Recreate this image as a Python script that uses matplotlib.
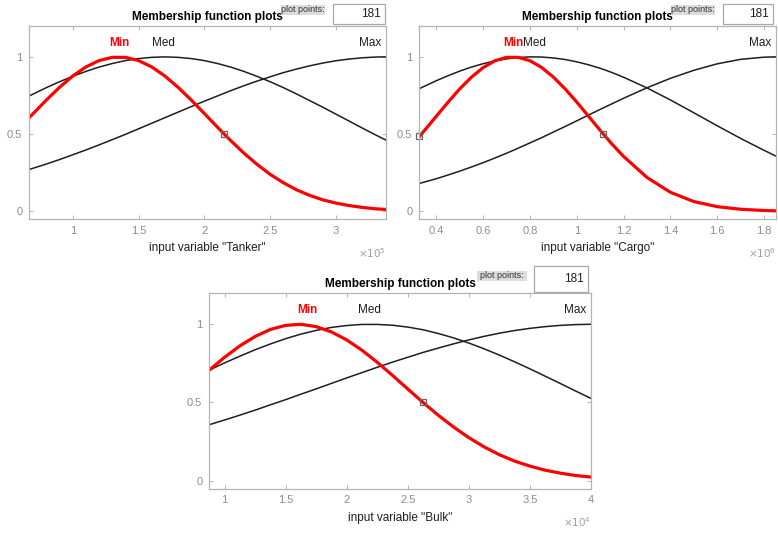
import matplotlib.pyplot as plt
from matplotlib.patches import Rectangle

W, H = 778, 536
plt.rcParams['font.family'] = ['Liberation Sans Narrow', 'Liberation Sans', 'DejaVu Sans']

# --- Tanker (x in units of 1e5) ---
tanker_x = [0.67, 0.8, 0.9, 1.0, 1.1, 1.2, 1.3, 1.4, 1.5, 1.6, 1.7, 1.8, 1.9, 2.0,
            2.1, 2.2, 2.3, 2.4, 2.5, 2.6, 2.7, 2.8, 2.9, 3.0, 3.1, 3.2, 3.3, 3.38]
tanker_min = [0.607, 0.721, 0.803, 0.876, 0.935, 0.976, 0.997, 0.997, 0.976, 0.935,
              0.876, 0.803, 0.721, 0.633, 0.544, 0.458, 0.377, 0.304, 0.239, 0.185,
              0.139, 0.103, 0.074, 0.053, 0.037, 0.025, 0.016, 0.012]
tanker_med = [0.747, 0.801, 0.839, 0.874, 0.906, 0.934, 0.957, 0.976, 0.989, 0.997,
              1.0, 0.997, 0.989, 0.976, 0.957, 0.934, 0.906, 0.874, 0.839, 0.801,
              0.760, 0.717, 0.674, 0.629, 0.584, 0.539, 0.495, 0.461]
tanker_max = [0.271, 0.306, 0.335, 0.366, 0.397, 0.430, 0.464, 0.498, 0.534, 0.570,
              0.606, 0.642, 0.678, 0.713, 0.747, 0.781, 0.813, 0.843, 0.871, 0.898,
              0.921, 0.942, 0.960, 0.975, 0.986, 0.994, 0.999, 1.0]
tanker_ticks = [1, 1.5, 2, 2.5, 3]
tanker_ticklabels = ['1', '1.5', '2', '2.5', '3']
tanker_marks_x = [2.152]
tanker_marks_y = [0.5]

# --- Cargo (x in units of 1e6) ---
cargo_x = [0.327, 0.4, 0.45, 0.5, 0.55, 0.6, 0.65, 0.7, 0.75, 0.8, 0.85, 0.9, 0.95,
           1.0, 1.05, 1.1, 1.15, 1.2, 1.3, 1.4, 1.5, 1.6, 1.7, 1.8, 1.85]
cargo_min = [0.483, 0.616, 0.707, 0.793, 0.869, 0.931, 0.975, 0.997, 0.997, 0.975,
             0.931, 0.869, 0.793, 0.707, 0.616, 0.524, 0.436, 0.355, 0.219, 0.123,
             0.063, 0.030, 0.013, 0.005, 0.003]
cargo_med = [0.794, 0.846, 0.878, 0.908, 0.934, 0.956, 0.974, 0.987, 0.996, 1.0,
             0.999, 0.993, 0.983, 0.968, 0.949, 0.926, 0.899, 0.868, 0.799, 0.721,
             0.638, 0.554, 0.472, 0.395, 0.358]
cargo_max = [0.180, 0.211, 0.235, 0.260, 0.287, 0.315, 0.345, 0.376, 0.409, 0.443,
             0.477, 0.513, 0.549, 0.586, 0.623, 0.660, 0.696, 0.732, 0.800, 0.861,
             0.913, 0.955, 0.984, 0.998, 1.0]
cargo_ticks = [0.4, 0.6, 0.8, 1.0, 1.2, 1.4, 1.6, 1.8]
cargo_ticklabels = ['0.4', '0.6', '0.8', '1', '1.2', '1.4', '1.6', '1.8']
cargo_marks_x = [0.327, 1.114]
cargo_marks_y = [0.49, 0.5]

# --- Bulk (x in units of 1e4) ---
bulk_x = [0.875, 1.0, 1.125, 1.25, 1.375, 1.5, 1.625, 1.75, 1.875, 2.0, 2.125, 2.25,
          2.375, 2.5, 2.625, 2.75, 2.875, 3.0, 3.125, 3.25, 3.375, 3.5, 3.625, 3.75,
          3.875, 4.0]
bulk_min = [0.707, 0.789, 0.862, 0.922, 0.967, 0.993, 1.0, 0.985, 0.951, 0.900,
            0.834, 0.757, 0.673, 0.586, 0.500, 0.418, 0.343, 0.275, 0.216, 0.166,
            0.125, 0.093, 0.067, 0.048, 0.033, 0.023]
bulk_med = [0.707, 0.753, 0.796, 0.837, 0.874, 0.908, 0.937, 0.961, 0.980, 0.992,
            0.999, 0.999, 0.994, 0.982, 0.965, 0.941, 0.913, 0.880, 0.843, 0.803,
            0.760, 0.715, 0.668, 0.621, 0.573, 0.526]
bulk_max = [0.358, 0.388, 0.419, 0.451, 0.485, 0.518, 0.553, 0.587, 0.622, 0.657,
            0.691, 0.725, 0.758, 0.789, 0.820, 0.848, 0.875, 0.900, 0.923, 0.943,
            0.960, 0.974, 0.985, 0.993, 0.998, 1.0]
bulk_ticks = [1, 1.5, 2, 2.5, 3, 3.5, 4]
bulk_ticklabels = ['1', '1.5', '2', '2.5', '3', '3.5', '4']
bulk_marks_x = [2.626]
bulk_marks_y = [0.5]

mf_names = ['Min', 'Med', 'Max']
plot_points = '181'

GREY = '#8c8c8c'
SPINE = '#b4b4b4'


def fx(x):
    return x / W


def fy(y):
    return 1 - y / H


def draw_panel(fig, box, x, y_min, y_med, y_max, ticks, ticklabels, var, expo,
               marks_x, marks_y, min_at, med_at, pp_box):
    left, top, right, bottom = box
    ax = fig.add_axes([fx(left), fy(bottom), fx(right - left), (bottom - top) / H])
    ax.plot(x, y_med, color='#1e1e1e', lw=1.1)
    ax.plot(x, y_max, color='#1e1e1e', lw=1.1)
    ax.plot(x, y_min, color='#ff0000', lw=2.3)
    ax.plot(marks_x, marks_y, 's', ms=4, mfc='none', mec='#666666', mew=0.9, clip_on=False)

    ax.set_xlim(x[0], x[-1])
    ax.set_ylim(-0.05, 1.2)
    ax.set_xticks(ticks)
    ax.set_xticklabels(ticklabels)
    ax.set_yticks([0, 0.5, 1])
    ax.set_yticklabels(['0', '0.5', '1'])
    ax.tick_params(direction='in', top=True, right=True, length=3, width=0.7,
                   color=SPINE, labelcolor=GREY, labelsize=8, pad=5)
    for s in ax.spines.values():
        s.set_color(SPINE)
        s.set_linewidth(0.9)

    ax.text(min_at, 1.09, mf_names[0], color='#ff0000', fontsize=8.5,
            fontweight='bold', ha='center', va='center')
    ax.text(med_at, 1.09, mf_names[1], color='#1e1e1e', fontsize=8.5,
            ha='center', va='center')
    ax.text(0.988, 1.09, mf_names[2], color='#1e1e1e', fontsize=8.5,
            ha='right', va='center', transform=ax.get_yaxis_transform())

    h = bottom - top
    ax.text(0.5, 1 + 9 / h, 'Membership function plots', transform=ax.transAxes,
            ha='center', va='center', fontsize=8.5, fontweight='bold')
    ax.text(0.5, -29 / h, 'input variable "%s"' % var, transform=ax.transAxes,
            ha='center', va='center', fontsize=8.5, color='#1e1e1e')
    ax.text(1.0, -34 / h, r'$\times 10^{%d}$' % expo, transform=ax.transAxes,
            ha='right', va='center', fontsize=7.5, color='#a0a0a0')

    # "plot points" control
    lx0, lx1, ly0, ly1, bx0, bx1, by0, by1 = pp_box
    fig.add_artist(Rectangle((fx(lx0), fy(ly1)), fx(lx1 - lx0), (ly1 - ly0) / H,
                             transform=fig.transFigure, facecolor='#dcdcdc',
                             edgecolor='none'))
    fig.text(fx((lx0 + lx1) / 2), fy((ly0 + ly1) / 2), 'plot points:',
             ha='center', va='center', fontsize=6.5, color='#333333')
    fig.add_artist(Rectangle((fx(bx0), fy(by1)), fx(bx1 - bx0), (by1 - by0) / H,
                             transform=fig.transFigure, facecolor='white',
                             edgecolor='#a8a8a8', lw=0.9))
    fig.text(fx(bx1 - 4), fy((by0 + by1) / 2), plot_points, ha='right', va='center',
             fontsize=8.5, color='#1e1e1e')
    return ax


fig = plt.figure(figsize=(W / 100, H / 100), dpi=100)
fig.patch.set_facecolor('white')

draw_panel(fig, (29.3, 26, 386, 219), tanker_x, tanker_min, tanker_med, tanker_max,
           tanker_ticks, tanker_ticklabels, 'Tanker', 5, tanker_marks_x, tanker_marks_y,
           1.353, 1.69, (281, 325, 5, 15, 333, 385, 4, 24))
draw_panel(fig, (419.3, 26, 775.7, 219), cargo_x, cargo_min, cargo_med, cargo_max,
           cargo_ticks, cargo_ticklabels, 'Cargo', 6, cargo_marks_x, cargo_marks_y,
           0.729, 0.818, (671, 715, 5, 15, 723, 773, 4, 24))
draw_panel(fig, (209.3, 293, 591, 488.5), bulk_x, bulk_min, bulk_med, bulk_max,
           bulk_ticks, bulk_ticklabels, 'Bulk', 4, bulk_marks_x, bulk_marks_y,
           1.68, 2.19, (477, 527, 271, 281, 534, 588, 266, 292))

fig.savefig('out.png', dpi=100)
